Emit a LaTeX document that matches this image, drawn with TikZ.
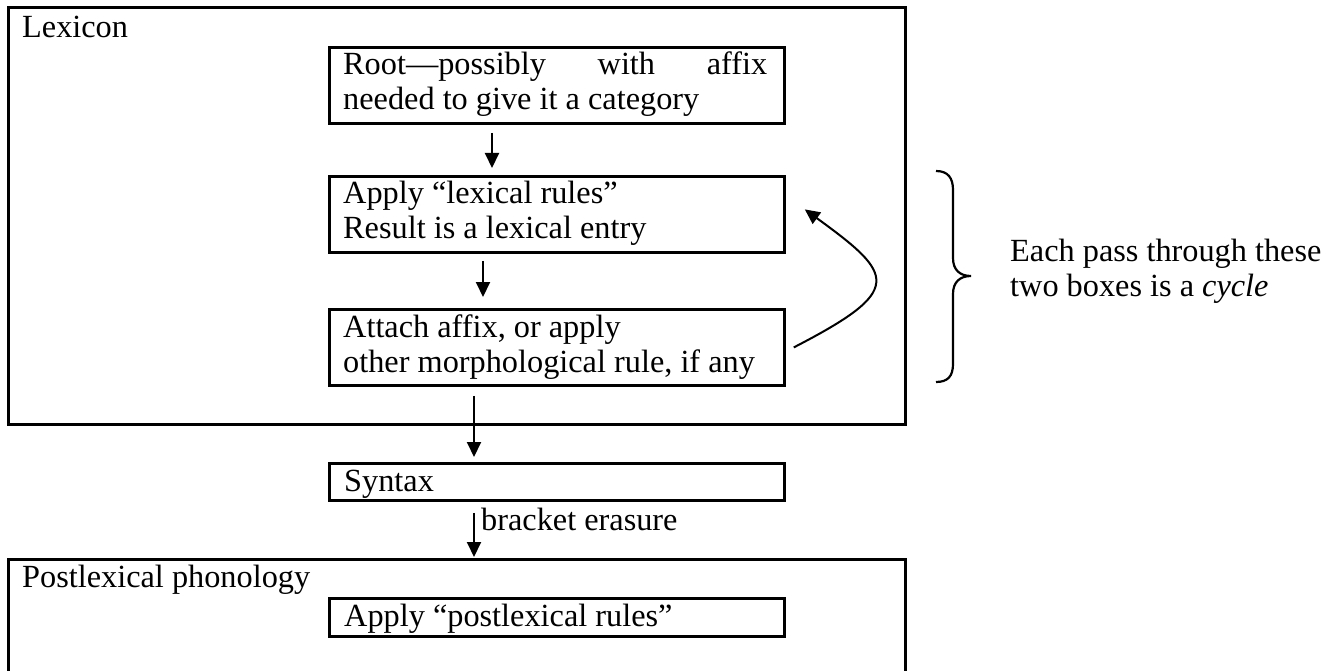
\documentclass[tikz,border=0pt]{standalone}
\usepackage{fontspec}
\setmainfont{Liberation Serif}
\usetikzlibrary{arrows.meta}
\begin{document}
\begin{tikzpicture}[x=1pt,y=-1pt,
  font=\fontsize{32.3}{35}\selectfont,
  bigbox/.style={draw, line width=3pt, rectangle, inner sep=0pt, anchor=north west},
  stepbox/.style={draw, line width=2.8pt, rectangle, inner sep=0pt, anchor=north west},
  txt/.style={anchor=base west, inner sep=0pt},
  arr/.style={line width=2pt, -{Triangle[length=15pt,width=14pt]}},
  bracestyle/.style={line width=2.2pt}]
\useasboundingbox (0,0) rectangle (1333,671);
\fill[white] (0,0) rectangle (1333,671);
\begin{scope}
\clip (0,0) rectangle (1333,671);
% outer boxes
\node[bigbox, minimum width=897pt, minimum height=417pt] (lex) at (7,6) {};
\node[bigbox, minimum width=897pt, minimum height=130pt] (post) at (7,558) {};
% inner boxes
\node[stepbox, minimum width=455pt, minimum height=76pt] (root) at (328,46) {};
\node[stepbox, minimum width=455pt, minimum height=76pt] (apply) at (328,175) {};
\node[stepbox, minimum width=455pt, minimum height=76pt] (attach) at (328,308) {};
\node[stepbox, minimum width=455pt, minimum height=37pt] (syn) at (328,462) {};
\node[stepbox, minimum width=455pt, minimum height=38pt] (papply) at (328,597) {};
\end{scope}
% texts
\node[txt] (tlex) at (22,38) {Lexicon};
\node[txt] (troot1) at (343,75) {\makebox[424pt][s]{Root---possibly with affix}};
\node[txt] (troot2) at (343,110) {needed to give it a category};
\node[txt] (tapp1) at (343,204) {Apply “lexical rules”};
\node[txt] (tapp2) at (343,239) {Result is a lexical entry};
\node[txt] (tatt1) at (343,337) {Attach affix, or apply};
\node[txt] (tatt2) at (343,372) {other morphological rule, if any};
\node[txt] (tsyn) at (344,491) {Syntax};
\node[txt] (tbr) at (481,530) {bracket erasure};
\node[txt] (tpost) at (22,587) {Postlexical phonology};
\node[txt] (tpapp) at (344,626) {Apply “postlexical rules”};
\node[txt] (tcyc1) at (1010,261) {Each pass through these};
\node[txt] (tcyc2) at (1010,296) {two boxes is a \textit{cycle}};
% arrow columns
\coordinate (c1) at (492,0);
\coordinate (c2) at (483,0);
\coordinate (c3) at (474,0);
\draw[arr, shorten <=8pt, shorten >=7pt] (root.south -| c1) -- (apply.north -| c1);
\draw[arr, shorten <=7pt, shorten >=11pt] (apply.south -| c2) -- (attach.north -| c2);
\draw[arr, shorten <=9pt, shorten >=5pt] (attach.south -| c3) -- (syn.north -| c3);
\draw[arr, shorten <=11pt, shorten >=1pt] (syn.south -| c3) -- (post.north -| c3);
% cycle arrow
\coordinate (cs) at ([xshift=8pt]attach.east);
\coordinate (ce) at ([xshift=19pt,yshift=5pt]apply.east);
\draw[arr] (cs) .. controls (905,290) and (895,275) .. (ce);
% brace
\coordinate (b1) at (936,171);
\coordinate (b2) at (971,276);
\coordinate (b3) at (936,382);
\draw[bracestyle] (b1) .. controls (948,171) and (953,178) .. (953,190) -- (953,258)
  .. controls (953,270) and (960,276) .. (b2)
  .. controls (960,276) and (953,282) .. (953,294) -- (953,364)
  .. controls (953,376) and (948,382) .. (b3);
\end{tikzpicture}
\end{document}
